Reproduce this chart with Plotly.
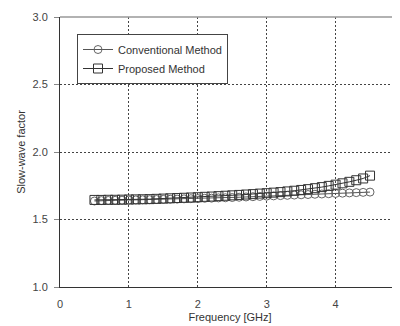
import plotly.graph_objects as go

freq = [0.5, 0.6, 0.7, 0.8, 0.9, 1.0, 1.1, 1.2, 1.3, 1.4, 1.5, 1.6, 1.7, 1.8, 1.9,
        2.0, 2.1, 2.2, 2.3, 2.4, 2.5, 2.6, 2.7, 2.8, 2.9, 3.0, 3.1, 3.2, 3.3, 3.4,
        3.5, 3.6, 3.7, 3.8, 3.9, 4.0, 4.1, 4.2, 4.3, 4.4, 4.5]
conventional = [1.637, 1.640, 1.641, 1.642, 1.643, 1.644, 1.645, 1.646, 1.647, 1.648,
                1.649, 1.650, 1.651, 1.653, 1.654, 1.655, 1.657, 1.658, 1.660, 1.661,
                1.663, 1.665, 1.667, 1.669, 1.671, 1.673, 1.675, 1.677, 1.679, 1.681,
                1.683, 1.685, 1.687, 1.689, 1.691, 1.693, 1.695, 1.697, 1.699, 1.701,
                1.703]
proposed = [1.645, 1.645, 1.646, 1.646, 1.647, 1.648, 1.649, 1.650, 1.651, 1.653,
            1.655, 1.657, 1.659, 1.661, 1.663, 1.665, 1.668, 1.670, 1.673, 1.676,
            1.679, 1.682, 1.685, 1.688, 1.692, 1.695, 1.699, 1.703, 1.708, 1.713,
            1.719, 1.725, 1.732, 1.740, 1.749, 1.758, 1.768, 1.779, 1.791, 1.804,
            1.825]
x_ticks = [0, 1, 2, 3, 4, 5]
y_ticks = [1.0, 1.5, 2.0, 2.5, 3.0]

FONT = "Liberation Sans, Arial, sans-serif"

fig = go.Figure()
fig.add_trace(go.Scatter(
    x=freq, y=conventional, name="Conventional Method", mode="lines+markers",
    line=dict(color="#555555", width=1),
    marker=dict(symbol="circle-open", size=8, color="#666666", line=dict(width=1)),
))
fig.add_trace(go.Scatter(
    x=freq, y=proposed, name="Proposed Method", mode="lines+markers",
    line=dict(color="#333333", width=1),
    marker=dict(symbol="square-open", size=9, color="#333333", line=dict(width=1)),
))

fig.update_layout(
    width=400, height=326,
    margin=dict(l=52, r=8, t=9, b=47, autoexpand=False),
    paper_bgcolor="white", plot_bgcolor="white",
    font=dict(family=FONT, size=11, color="#444444"),
    showlegend=True,
    legend=dict(
        x=0.05, y=0.937, xanchor="left", yanchor="top",
        bgcolor="white", bordercolor="#444444", borderwidth=1,
        font=dict(family=FONT, size=11, color="#333333"),
        tracegroupgap=0,
    ),
    shapes=[dict(type="line", xref="paper", yref="paper", x0=0, x1=1, y0=1, y1=1,
                 line=dict(color="#999999", width=1.5))],
)

fig.update_xaxes(
    range=[0, 4.935], tickvals=x_ticks, ticktext=[str(v) for v in x_ticks],
    showgrid=True, gridcolor="#444444", griddash="2px,2px", gridwidth=1,
    showline=True, linecolor="#333333", linewidth=1, ticks="",
    ticklabelstandoff=7, zeroline=False, automargin=False,
    title=dict(text="Frequency [GHz]", font=dict(size=11, color="#333333"), standoff=4),
)
fig.update_yaxes(
    range=[1.0, 3.0], tickvals=y_ticks, ticktext=[f"{v:.1f}" for v in y_ticks],
    showgrid=True, gridcolor="#444444", griddash="2px,2px", gridwidth=1,
    showline=True, linecolor="#333333", linewidth=1,
    ticks="outside", ticklen=5, tickcolor="#888888",
    ticklabelstandoff=4, zeroline=False, automargin=False,
    title=dict(text="Slow-wave factor", font=dict(size=11, color="#333333"), standoff=4),
)

fig.write_html("out.html")
